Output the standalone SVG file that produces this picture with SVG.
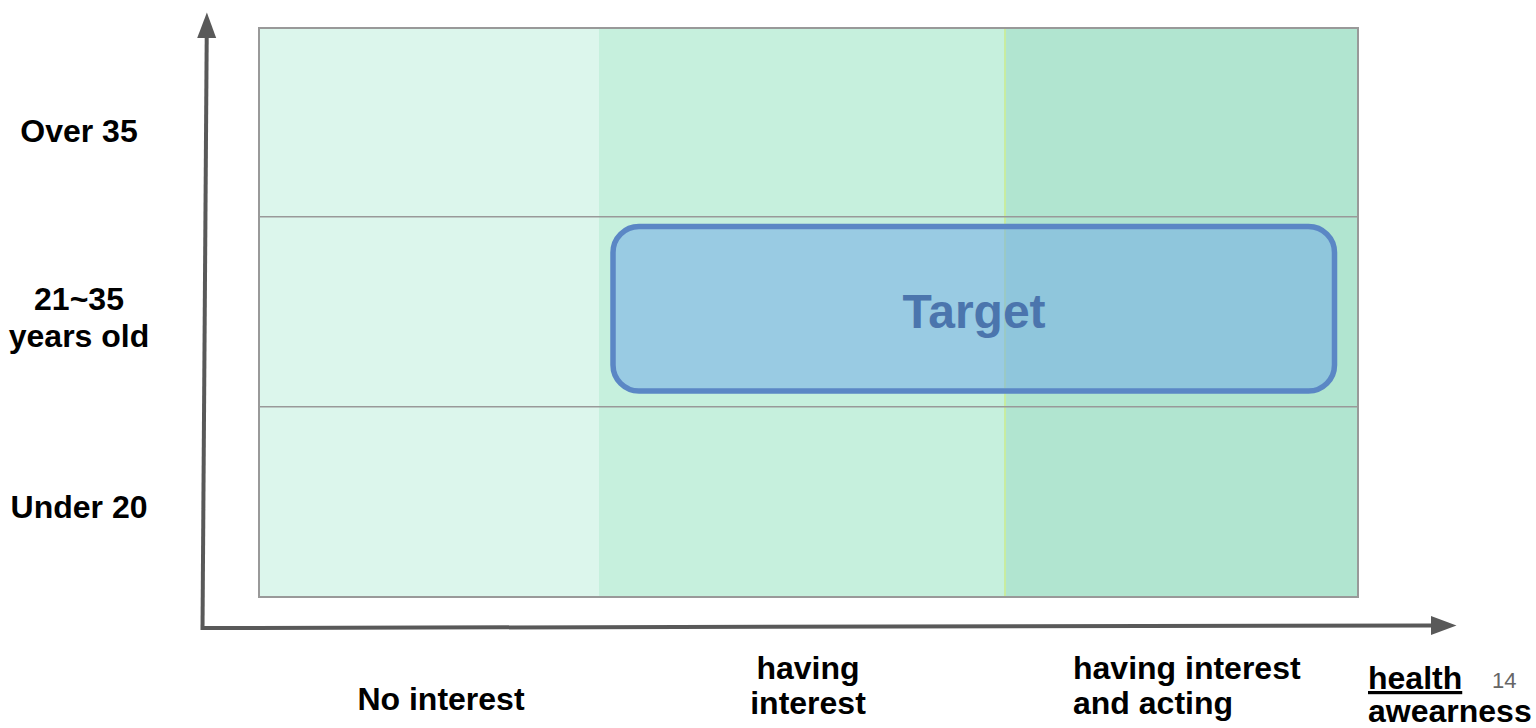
<svg xmlns="http://www.w3.org/2000/svg" width="1536" height="728" viewBox="0 0 1536 728">
  <style>
    .lbl { font-family: "Liberation Sans", Arial, sans-serif; font-weight: bold; font-size: 32px; fill: #000; }
    .axis { stroke: #595959; stroke-width: 4; fill: none; }
    .row { stroke: #999; stroke-width: 1.5; }
  </style>
  <defs>
    <marker id="arrow" markerUnits="userSpaceOnUse" markerWidth="26" markerHeight="20" refX="0" refY="9.5" orient="auto">
      <path d="M0,0 L25.5,9.5 L0,19 z" fill="#595959"/>
    </marker>
  </defs>
  <rect width="1536" height="728" fill="#fff"/>

  <g id="grid">
    <rect x="259" y="28" width="340" height="569" fill="#dcf6ec"/>
    <rect x="599" y="28" width="406" height="569" fill="#c6f0dd"/>
    <rect x="1005" y="28" width="353" height="569" fill="#b1e5d0"/>
    <line x1="1005" y1="28" x2="1005" y2="597" stroke="#c8eca0" stroke-width="2"/>
    <line class="row" x1="259" y1="216.7" x2="1358" y2="216.7"/>
    <line class="row" x1="259" y1="406.7" x2="1358" y2="406.7"/>
    <rect x="259" y="28" width="1099" height="569" fill="none" stroke="#999" stroke-width="2"/>
  </g>

  <g id="target">
    <rect x="613" y="226.5" width="721.5" height="164.5" rx="26" ry="26" fill="rgb(112,169,232)" fill-opacity="0.52" stroke="#5b87c5" stroke-width="5.5"/>
    <text x="974" y="328" text-anchor="middle" font-family="Liberation Sans, Arial, sans-serif" font-weight="bold" font-size="48" fill="#4b75ad">Target</text>
  </g>

  <g id="connectors">
    <line class="axis" x1="202.5" y1="630" x2="206.7" y2="38" marker-end="url(#arrow)"/>
    <line class="axis" x1="201" y1="628" x2="1431" y2="625.5" marker-end="url(#arrow)"/>
  </g>

  <g id="y-labels">
    <text class="lbl" x="79" y="142" text-anchor="middle">Over 35</text>
    <text class="lbl" text-anchor="middle"><tspan x="79" y="310">21~35</tspan><tspan x="79" y="347">years old</tspan></text>
    <text class="lbl" x="79" y="518" text-anchor="middle">Under 20</text>
  </g>

  <g id="x-labels">
    <text class="lbl" x="441" y="710" text-anchor="middle">No interest</text>
    <text class="lbl" text-anchor="middle"><tspan x="808" y="679">having</tspan><tspan x="808" y="714">interest</tspan></text>
    <text class="lbl"><tspan x="1073" y="679">having interest</tspan><tspan x="1073" y="714">and acting</tspan></text>
    <text class="lbl"><tspan x="1368" y="689" text-decoration="underline">health</tspan><tspan x="1368" y="722">awearness</tspan></text>
  </g>

  <g id="page-number">
    <text x="1492" y="688" font-family="Liberation Sans, Arial, sans-serif" font-size="22" fill="#666">14</text>
  </g>
</svg>
